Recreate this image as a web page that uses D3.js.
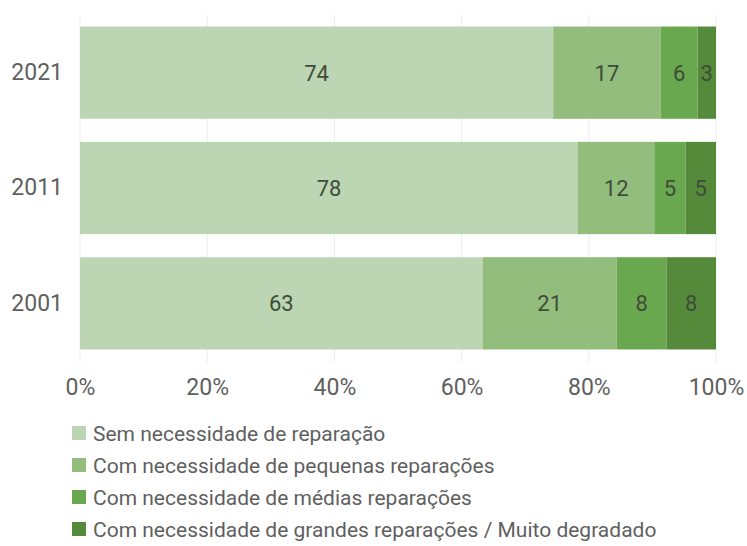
<!DOCTYPE html>
<html><head><meta charset="utf-8">
<script src="https://cdn.jsdelivr.net/npm/d3@7"></script>
<style>body{margin:0;background:#fff;} text{font-family:Roboto,sans-serif;}</style>
</head><body><svg id="c" width="747" height="546"></svg>
<script>
const years = ["2021", "2011", "2001"];
const seriesNames = ["Sem necessidade de reparação", "Com necessidade de pequenas reparações", "Com necessidade de médias reparações", "Com necessidade de grandes reparações / Muito degradado"];
const semNecessidade = [74.4, 78.3, 63.3];
const pequenas = [16.9, 12.0, 21.1];
const medias = [5.8, 4.9, 7.8];
const grandes = [2.9, 4.8, 7.8];
const tickValues = [0, 20, 40, 60, 80, 100];
const colors = ["#bcd5b2", "#93bd7d", "#6aa84f", "#558a3a"];

const rows = years.map((y, i) => ({year: y, s0: semNecessidade[i], s1: pequenas[i], s2: medias[i], s3: grandes[i]}));
const keys = ["s0", "s1", "s2", "s3"];
const stack = d3.stack().keys(keys)(rows);

const svg = d3.select("#c");
const x = d3.scaleLinear().domain([0, 100]).range([80, 716]);
const y = d3.scaleBand().domain(years).range([15, 361]).paddingInner(0.2).paddingOuter(0.1);

// gridlines
svg.append("g").selectAll("line").data(tickValues).join("line")
  .attr("x1", d => x(d)).attr("x2", d => x(d)).attr("y1", 15).attr("y2", 362)
  .attr("stroke", "#ececec").attr("stroke-width", 1);

const g = svg.append("g");
stack.forEach((layer, li) => {
  g.append("g").selectAll("rect").data(layer).join("rect")
    .attr("x", d => x(d[0])).attr("width", d => x(d[1]) - x(d[0]))
    .attr("y", d => y(d.data.year)).attr("height", y.bandwidth())
    .attr("fill", colors[li]);
  g.append("g").selectAll("text").data(layer).join("text")
    .attr("x", d => (x(d[0]) + x(d[1])) / 2)
    .attr("y", d => y(d.data.year) + y.bandwidth() / 2)
    .attr("dy", "0.36em").attr("text-anchor", "middle")
    .attr("font-size", 22).attr("fill", "#3e4c3a")
    .text(d => Math.round(d[1] - d[0]));
});

// y axis
const ya = svg.append("g").attr("transform", "translate(80,0)")
  .call(d3.axisLeft(y).tickSize(0).tickPadding(17));
ya.select(".domain").remove();
ya.selectAll("text").attr("font-size", 23).attr("fill", "#5f5f5f").attr("font-family", "Roboto");

// x axis
const xa = svg.append("g").attr("transform", "translate(0,373)")
  .call(d3.axisBottom(x).tickValues(tickValues).tickFormat(d => d + "%").tickSize(0).tickPadding(6));
xa.select(".domain").remove();
xa.selectAll("text").attr("font-size", 23).attr("fill", "#5f5f5f").attr("font-family", "Roboto");

// legend
const lg = svg.append("g").selectAll("g").data(seriesNames).join("g")
  .attr("transform", (d, i) => `translate(72,${433 + i * 32})`);
lg.append("rect").attr("x", 0).attr("y", -7).attr("width", 14).attr("height", 14).attr("fill", (d, i) => colors[i]);
lg.append("text").attr("x", 21).attr("dy", "0.36em").attr("font-size", 21).attr("fill", "#5f5f5f").text(d => d);
</script></body></html>
